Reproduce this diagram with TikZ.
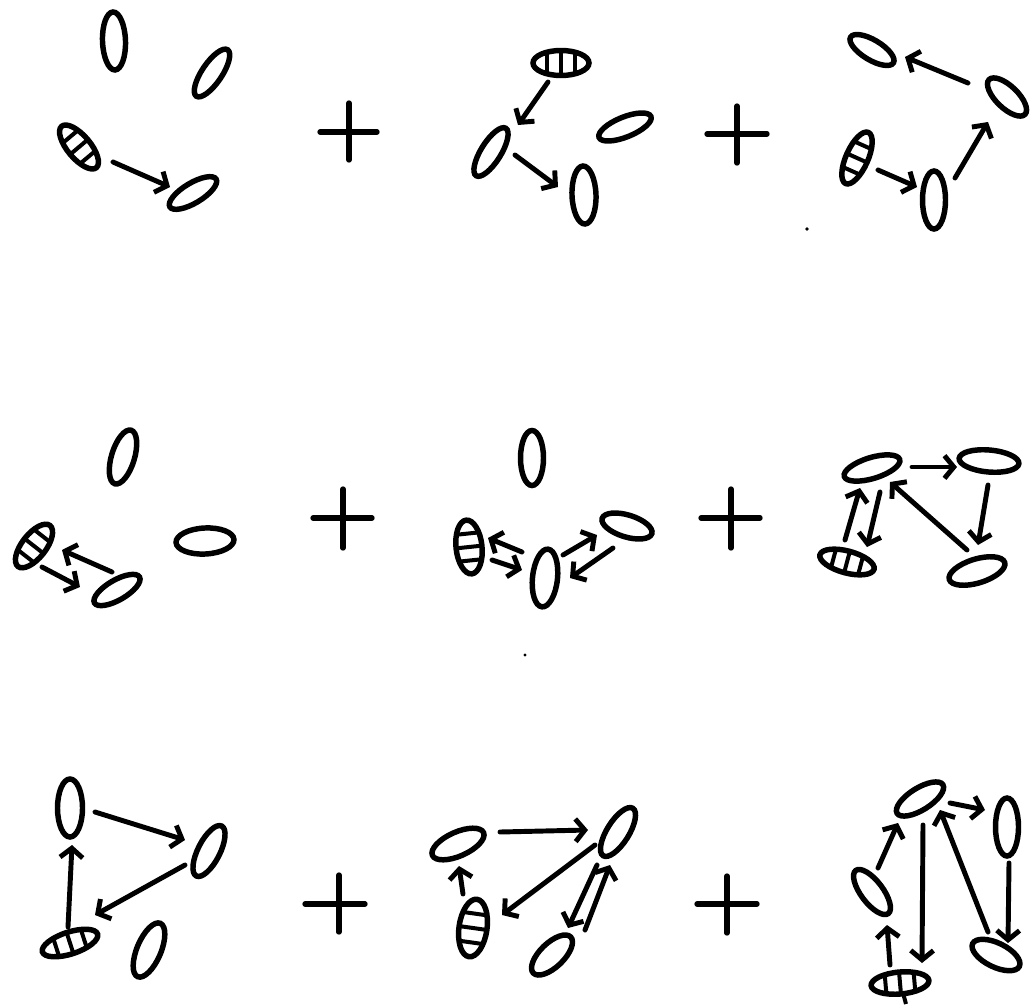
\documentclass[tikz,border=0pt]{standalone}
\usetikzlibrary{shapes.geometric,arrows.meta,calc}
\tikzset{
  el/.style n args={3}{ellipse, draw, line width=4.1pt, inner sep=0pt,
    minimum width=#1*1.5pt, minimum height=#2*1.5pt, rotate=#3},
  arr/.style={line width=3.7pt, line cap=round, line join=round,
    -{Straight Barb[length=7pt,width=17pt,line width=3.7pt]}},
  stripe/.style={line width=3pt},
  plusline/.style={line width=4pt, line cap=round},
}
% striped ellipse: name, semi-long, semi-short (px), angle
\newcommand\stripes[4]{%
  \begin{scope}[shift={(#1)}, rotate=#4]
    \draw[stripe] ({-#2/2},{-0.87*#3}) -- ({-#2/2},{0.87*#3});
    \draw[stripe] (0,{-#3}) -- (0,{#3});
    \draw[stripe] ({#2/2},{-0.87*#3}) -- ({#2/2},{0.87*#3});
  \end{scope}}
\begin{document}
\begin{tikzpicture}[x=0.75pt,y=-0.75pt]
\fill[white] (0,0) rectangle (1031,1006);
\useasboundingbox (0,0) rectangle (1031,1006);

% ---------- panel 1
\node[el={29}{11.5}{92}] (p1a) at (114,41) {};
\node[el={28}{10}{56}] (p1b) at (212,73) {};
\node[el={27}{11.5}{-50}] (p1c) at (79,147) {};
\stripes{p1c}{27}{11.5}{-50}
\node[el={27}{10}{31}] (p1d) at (193,193) {};
\draw[arr] ($(p1c)+(34,15)$) -- ($(p1d)+(-23,-6)$);

% ---------- panel 2
\node[el={28}{12.5}{0}] (p2e) at (561,63) {};
\stripes{p2e}{28}{12.5}{0}
\node[el={28}{10}{58}] (p2f) at (491,152) {};
\node[el={28}{10}{22}] (p2g) at (625,127) {};
\node[el={29}{12}{92}] (p2h) at (584,195) {};
\draw[arr] ($(p2e)+(-13,19)$) -- ($(p2f)+(27,-27)$);
\draw[arr] ($(p2f)+(24,3)$) -- ($(p2h)+(-26,-8)$);

% ---------- panel 3
\node[el={25}{10}{-31}] (p3i) at (872,50) {};
\node[el={25}{11}{-44}] (p3j) at (1007,97) {};
\node[el={28}{11}{66}] (p3k) at (857,158) {};
\stripes{p3k}{28}{11}{66}
\node[el={29}{11.5}{90}] (p3l) at (934,200) {};
\draw[arr] ($(p3j)+(-39,-14)$) -- ($(p3i)+(33,7)$);
\draw[arr] ($(p3k)+(21,12)$) -- ($(p3l)+(-17,-13)$);
\draw[arr] ($(p3l)+(21,-22)$) -- ($(p3j)+(-19,25)$);
\fill (807,229) circle (1.8);

% ---------- plus signs row 1
\draw[plusline] (320,132) -- (377,132); \draw[plusline] (349,103) -- (349,160);
\draw[plusline] (707,134) -- (767,134); \draw[plusline] (737,106) -- (737,163);

% ---------- panel 4
\node[el={28}{11.5}{73}] (p4m) at (123,457) {};
\node[el={26}{12}{52}] (p4n) at (34,546) {};
\stripes{p4n}{26}{12}{52}
\node[el={29}{13}{3}] (p4o) at (205,541) {};
\node[el={26}{10}{30}] (p4p) at (117,590) {};
\draw[arr] ($(p4p)+(-5,-18)$) -- ($(p4n)+(28,4)$);
\draw[arr] ($(p4n)+(8,21)$) -- ($(p4p)+(-37,-3)$);

% ---------- panel 5
\node[el={27.5}{11.5}{90}] (p5q) at (532,458) {};
\node[el={27}{13}{96}] (p5r) at (469,547) {};
\stripes{p5r}{27}{13}{96}
\node[el={29}{12.5}{84}] (p5s) at (545,578) {};
\node[el={26}{11}{-17}] (p5t) at (627,526) {};
\draw[arr] ($(p5s)+(-23,-26)$) -- ($(p5r)+(19,-9)$);
\draw[arr] ($(p5r)+(23,13)$) -- ($(p5s)+(-23,-8)$);
\draw[arr] ($(p5s)+(18,-23)$) -- ($(p5t)+(-30,9)$);
\draw[arr] ($(p5t)+(-14,22)$) -- ($(p5s)+(25,0)$);
\fill (525,655) circle (1.6);

% ---------- panel 6
\node[el={29}{10.5}{17}] (p6u) at (872,468) {};
\node[el={30}{11}{-5}] (p6v) at (989,461) {};
\node[el={28}{11}{-15}] (p6w) at (847,562) {};
\stripes{p6w}{28}{11}{-15}
\node[el={29}{12}{17}] (p6x) at (977,571) {};
\draw[arr] ($(p6u)+(40,-1)$) -- ($(p6v)+(-32,6)$);
\draw[arr] ($(p6v)+(-1,24)$) -- ($(p6x)+(1,-26)$);
\draw[arr] ($(p6x)+(-10,-21)$) -- ($(p6u)+(18,14)$);
\draw[arr] ($(p6w)+(-2,-22)$) -- ($(p6u)+(-12,20)$);
\draw[arr] ($(p6u)+(8,24)$) -- ($(p6w)+(20,-15)$);

% ---------- plus signs row 2
\draw[plusline] (313,518) -- (372,518); \draw[plusline] (343,489) -- (343,548);
\draw[plusline] (701,518) -- (760,518); \draw[plusline] (731,489) -- (731,548);

% ---------- panel 7
\node[el={29}{12.5}{90}] (p7y) at (70,808) {};
\node[el={28}{11}{63}] (p7z) at (209,851) {};
\node[el={29}{11}{18}] (p7aa) at (70,943) {};
\stripes{p7aa}{29}{11}{18}
\node[el={29}{12}{67}] (p7ab) at (149,950) {};
\draw[arr] ($(p7y)+(25,4)$) -- ($(p7z)+(-24,-11)$);
\draw[arr] ($(p7z)+(-24,14)$) -- ($(p7aa)+(25,-28)$);
\draw[arr] ($(p7aa)+(-2,-16)$) -- ($(p7y)+(2,37)$);

% ---------- panel 8
\node[el={28}{12}{24}] (p8ac) at (458,844) {};
\node[el={28}{11}{58}] (p8ad) at (618,832) {};
\node[el={29}{14}{82}] (p8ae) at (473,928) {};
\stripes{p8ae}{29}{14}{82}
\node[el={26}{12}{44}] (p8af) at (552,955) {};
\draw[arr] ($(p8ae)+(-10,-34)$) -- ($(p8ac)+(1,22)$);
\draw[arr] ($(p8ac)+(42,-12)$) -- ($(p8ad)+(-30,-2)$);
\draw[arr] ($(p8ad)+(-23,13)$) -- ($(p8ae)+(29,-13)$);
\draw[arr] ($(p8ad)+(-21,33)$) -- ($(p8af)+(16,-27)$);
\draw[arr] ($(p8af)+(33,-25)$) -- ($(p8ad)+(-8,33)$);
\fill (698,905) circle (1.8);

% ---------- panel 9
\node[el={27}{11}{32}] (p9ag) at (920,799) {};
\node[el={29}{11.5}{90}] (p9ah) at (1007,827) {};
\node[el={27}{11}{-53}] (p9ai) at (872,892) {};
\node[el={26}{12}{-26}] (p9aj) at (996,955) {};
\node[el={29}{11}{5}] (p9ak) at (900,983) {};
\stripes{p9ak}{29}{11}{5}
\draw[stripe] ($(p9ak)+(3,10)$) -- ($(p9ak)+(6,21)$);
\draw[arr] ($(p9ak)+(-10,-18)$) -- ($(p9ai)+(15,33)$);
\draw[arr] ($(p9ai)+(6,-24)$) -- ($(p9ag)+(-22,24)$);
\draw[arr] ($(p9ag)+(3,26)$) -- ($(p9ak)+(22,-20)$);
\draw[arr] ($(p9aj)+(-8,-23)$) -- ($(p9ag)+(20,11)$);
\draw[arr] ($(p9ag)+(30,4)$) -- ($(p9ah)+(-22,-17)$);
\draw[arr] ($(p9ah)+(2,36)$) -- ($(p9aj)+(12,-12)$);

% ---------- plus signs row 3
\draw[plusline] (305,904) -- (365,904); \draw[plusline] (339,875) -- (339,932);
\draw[plusline] (697,904) -- (757,904); \draw[plusline] (727,876) -- (727,933);
\end{tikzpicture}
\end{document}
